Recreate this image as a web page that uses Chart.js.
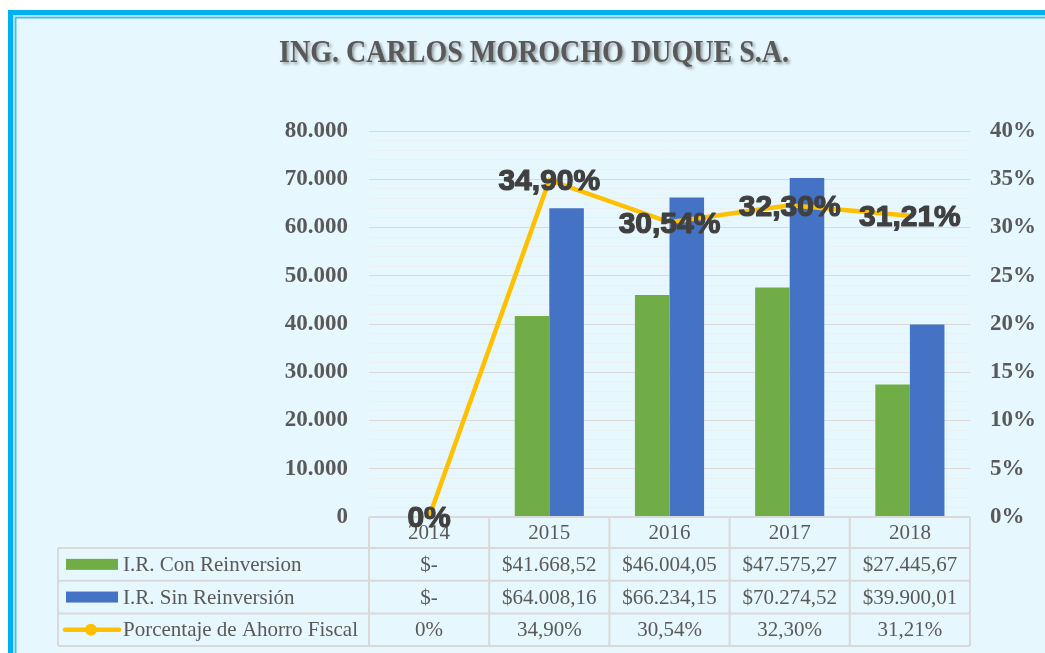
<!DOCTYPE html>
<html>
<head>
<meta charset="utf-8">
<script src="https://cdn.jsdelivr.net/npm/chart.js@4.4.1/dist/chart.umd.min.js"></script>
<style>
  html, body { margin: 0; padding: 0; background: #ffffff; }
  canvas { display: block; }
</style>
</head>
<body>
<canvas id="chart" width="1045" height="653"></canvas>
<script>
// Data
const years = ["2014", "2015", "2016", "2017", "2018"];
const conReinversion = [0, 41668.52, 46004.05, 47575.27, 27445.67];
const sinReinversion = [0, 64008.16, 66234.15, 70274.52, 39900.01];
const ahorroFiscal = [0, 0.349, 0.3054, 0.323, 0.3121];
const seriesNames = ["I.R. Con Reinversion", "I.R. Sin Reinversión", "Porcentaje de Ahorro Fiscal"];

const GREEN = "#70AD47";
const BLUE = "#4472C4";
const YELLOW = "#FFC000";
const TEXT = "#595959";
const GRID = "#D9D9D9";

function thousands(n) {
  return String(n).replace(/\B(?=(\d{3})+(?!\d))/g, ".");
}

function money(v) {
  if (!v) return "$-";
  const parts = v.toFixed(2).split(".");
  return "$" + thousands(parts[0]) + "," + parts[1];
}

function pct(v) {
  if (!v) return "0%";
  return (v * 100).toFixed(2).replace(".", ",") + "%";
}

// background, frame and title
const framePlugin = {
  id: "frame",
  beforeDraw(chart) {
    const ctx = chart.ctx;
    ctx.save();
    ctx.fillStyle = "#ffffff";
    ctx.fillRect(0, 0, chart.width, chart.height);
    ctx.fillStyle = "#E6F7FD";
    ctx.fillRect(8, 10, chart.width, chart.height);
    ctx.strokeStyle = "#00B0F0";
    ctx.lineWidth = 5;
    ctx.strokeRect(10.5, 12.5, chart.width + 20, chart.height + 20);
    ctx.strokeStyle = "#A6E2F7";
    ctx.lineWidth = 2;
    ctx.strokeRect(14, 16, chart.width + 20, chart.height + 20);
    ctx.strokeStyle = "#3DC0EE";
    ctx.lineWidth = 1.5;
    ctx.strokeRect(15.75, 17.75, chart.width + 20, chart.height + 20);

    // title, condensed like the original
    const title = "ING. CARLOS MOROCHO DUQUE S.A.";
    ctx.font = "bold 32px 'Liberation Serif', 'Times New Roman', serif";
    const w = ctx.measureText(title).width;
    const target = 510;
    ctx.translate(534, 62);
    ctx.scale(target / w, 1);
    ctx.shadowColor = "rgba(0,0,0,0.35)";
    ctx.shadowOffsetX = 2;
    ctx.shadowOffsetY = 2;
    ctx.shadowBlur = 3;
    ctx.fillStyle = TEXT;
    ctx.textAlign = "center";
    ctx.textBaseline = "alphabetic";
    ctx.fillText(title, 0, 0);
    ctx.restore();
  }
};

// data table below the plot and the value labels on the line
const tablePlugin = {
  id: "dataTable",
  afterDraw(chart) {
    const ctx = chart.ctx;
    const x = chart.scales.x;
    const area = chart.chartArea;
    const n = years.length;
    const colW = (area.right - area.left) / n;
    const top = area.bottom;
    const headH = 31;
    const rowH = 32.7;
    const legendLeft = 58;
    const rowsTop = top + headH;
    const bottom = rowsTop + rowH * 3;

    ctx.save();
    ctx.strokeStyle = GRID;
    ctx.lineWidth = 2;
    ctx.beginPath();
    // header top
    ctx.moveTo(area.left, top);
    ctx.lineTo(area.right, top);
    for (let r = 0; r <= 3; r++) {
      const y = rowsTop + r * rowH;
      ctx.moveTo(legendLeft, y);
      ctx.lineTo(area.right, y);
    }
    ctx.moveTo(legendLeft, rowsTop);
    ctx.lineTo(legendLeft, bottom);
    for (let i = 0; i <= n; i++) {
      const cx = area.left + i * colW;
      ctx.moveTo(cx, top);
      ctx.lineTo(cx, bottom);
    }
    ctx.stroke();

    ctx.font = "21px 'Liberation Serif', 'Times New Roman', serif";
    ctx.fillStyle = TEXT;
    ctx.textAlign = "center";
    ctx.textBaseline = "middle";
    years.forEach((yr, i) => {
      const cx = x.getPixelForValue(i);
      ctx.fillText(yr, cx, top + headH / 2 + 1);
      ctx.fillText(money(conReinversion[i]), cx, rowsTop + rowH * 0.5 + 1);
      ctx.fillText(money(sinReinversion[i]), cx, rowsTop + rowH * 1.5 + 1);
      ctx.fillText(pct(ahorroFiscal[i]), cx, rowsTop + rowH * 2.5 + 1);
    });

    // legend keys
    const keyY = (r) => rowsTop + rowH * (r + 0.5);
    ctx.fillStyle = GREEN;
    ctx.fillRect(66, keyY(0) - 5.5, 52, 11);
    ctx.fillStyle = BLUE;
    ctx.fillRect(66, keyY(1) - 5.5, 52, 11);
    ctx.strokeStyle = YELLOW;
    ctx.lineWidth = 4.5;
    ctx.lineCap = "round";
    ctx.beginPath();
    ctx.moveTo(65, keyY(2));
    ctx.lineTo(119, keyY(2));
    ctx.stroke();
    ctx.fillStyle = YELLOW;
    ctx.beginPath();
    ctx.arc(91, keyY(2), 6, 0, Math.PI * 2);
    ctx.fill();

    ctx.fillStyle = TEXT;
    ctx.textAlign = "left";
    seriesNames.forEach((name, r) => {
      ctx.fillText(name, 123, keyY(r) + 1);
    });

    // value labels on the line
    const meta = chart.getDatasetMeta(2);
    ctx.font = "bold 30px 'Liberation Sans', Arial, sans-serif";
    ctx.fillStyle = "#404040";
    ctx.strokeStyle = "#404040";
    ctx.lineWidth = 1.2;
    ctx.lineJoin = "round";
    ctx.textAlign = "center";
    ctx.textBaseline = "middle";
    meta.data.forEach((pt, i) => {
      const label = pct(ahorroFiscal[i]);
      ctx.strokeText(label, pt.x, pt.y + 2);
      ctx.fillText(label, pt.x, pt.y + 2);
    });
    ctx.restore();
  }
};

const tickFont = { family: "'Liberation Serif', 'Times New Roman', serif", size: 23, weight: "bold" };

new Chart(document.getElementById("chart"), {
  data: {
    labels: years,
    datasets: [
      {
        type: "bar",
        label: seriesNames[0],
        data: conReinversion,
        backgroundColor: GREEN,
        yAxisID: "y",
        order: 1,
        categoryPercentage: 0.575,
        barPercentage: 1
      },
      {
        type: "bar",
        label: seriesNames[1],
        data: sinReinversion,
        backgroundColor: BLUE,
        yAxisID: "y",
        order: 1,
        categoryPercentage: 0.575,
        barPercentage: 1
      },
      {
        type: "line",
        label: seriesNames[2],
        data: ahorroFiscal,
        borderColor: YELLOW,
        borderWidth: 4.5,
        pointRadius: 0,
        tension: 0,
        yAxisID: "y1",
        order: 0
      }
    ]
  },
  options: {
    responsive: false,
    animation: false,
    layout: {
      padding: { top: 131, bottom: 136, left: 0, right: 0 }
    },
    plugins: {
      legend: { display: false },
      title: { display: false },
      tooltip: { enabled: false }
    },
    scales: {
      x: {
        display: false
      },
      y: {
        position: "left",
        min: 0,
        max: 80000,
        border: { display: false },
        grid: {
          drawTicks: false,
          color: (c) => (c.tick && c.tick.value % 10000 === 0 ? GRID : "#EBF0F2"),
          lineWidth: 1
        },
        ticks: {
          stepSize: 2000,
          autoSkip: false,
          padding: 21,
          color: TEXT,
          font: tickFont,
          callback: (v) => (v % 10000 === 0 ? thousands(v) : "")
        },
        afterFit: (scale) => { scale.width = 369; }
      },
      y1: {
        position: "right",
        min: 0,
        max: 0.4,
        border: { display: false },
        grid: { drawOnChartArea: false, drawTicks: false },
        ticks: {
          stepSize: 0.05,
          autoSkip: false,
          padding: 20,
          color: TEXT,
          font: tickFont,
          callback: (v) => Math.round(v * 100) + "%"
        },
        afterFit: (scale) => { scale.width = 75; }
      }
    }
  },
  plugins: [framePlugin, tablePlugin]
});
</script>
</body>
</html>
